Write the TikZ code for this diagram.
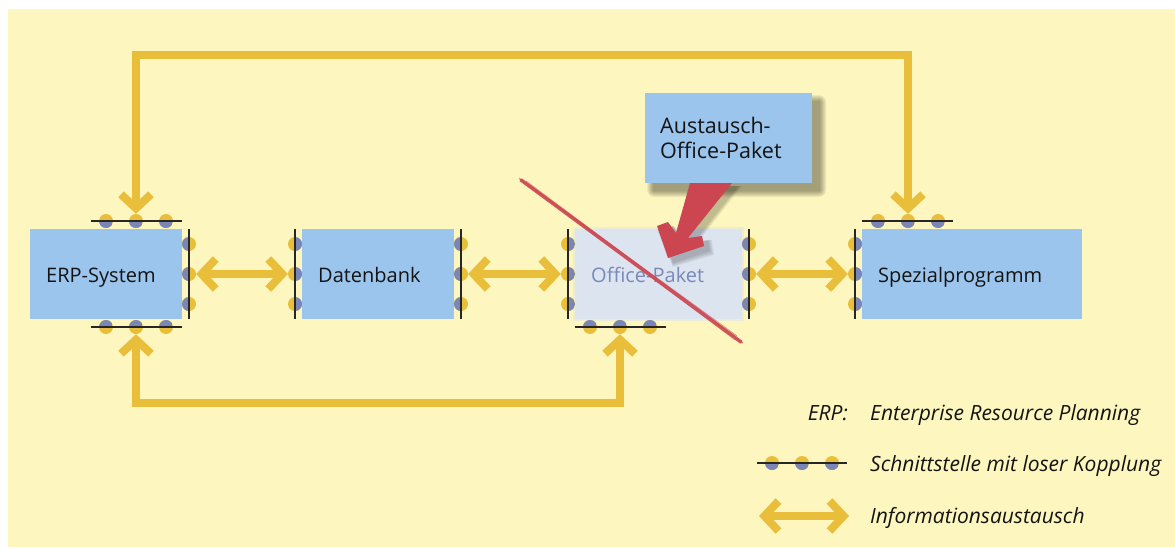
\documentclass[tikz,border=0pt]{standalone}
\usepackage{fontspec}
\setmainfont{Open Sans}
\usetikzlibrary{arrows.meta}

\definecolor{bgyellow}{RGB}{253,246,190}
\definecolor{boxblue}{RGB}{155,197,237}
\definecolor{flowyellow}{RGB}{233,190,58}
\definecolor{dotblue}{RGB}{122,135,182}
\definecolor{fadedbox}{RGB}{220,228,240}
\definecolor{fadedtext}{RGB}{122,137,186}
\definecolor{strikered}{RGB}{203,70,80}
\definecolor{inktext}{RGB}{20,20,20}

\tikzset{
  chev/.tip={Straight Barb[length=14pt,width=30pt,sharp]},
  flow/.style={draw=flowyellow, line width=8pt, line join=miter, chev-chev},
  sysbox/.style={fill=boxblue, draw=none, anchor=north west, minimum height=90pt,
    inner xsep=16pt, inner ysep=0pt, align=left, text=inktext,
    font=\fontsize{20}{24}\selectfont, text height=16pt, text depth=0pt},
  dotbase/.style={circle, fill=flowyellow, draw=none, minimum size=14pt, inner sep=0pt},
  dotT/.style={dotbase, path picture={\fill[dotblue] (path picture bounding box.west) rectangle (path picture bounding box.south east);}},
  dotB/.style={dotbase, path picture={\fill[dotblue] (path picture bounding box.north west) rectangle (path picture bounding box.east);}},
  dotL/.style={dotbase, path picture={\fill[dotblue] (path picture bounding box.north) rectangle (path picture bounding box.south east);}},
  dotR/.style={dotbase, path picture={\fill[dotblue] (path picture bounding box.north west) rectangle (path picture bounding box.south);}},
  iface/.style={draw=black!85, line width=1.3pt},
  legtext/.style={text=inktext, font=\fontsize{21}{25}\selectfont\itshape, inner sep=0pt},
}

\begin{document}
\begin{tikzpicture}[x=1pt,y=-1pt]
\useasboundingbox (0,0) rectangle (1175,547);
\fill[white] (0,0) rectangle (1175,547);
\fill[bgyellow] (8,9) rectangle (1175,547);

% route levels of the long connectors
\coordinate (topY) at (0,55);
\coordinate (botY) at (0,403);

% systems
\node[sysbox, minimum width=152pt, text width=120pt] (erp) at (30,229) {ERP-System};
\node[sysbox, minimum width=152pt, text width=120pt] (db) at (302,229) {Datenbank};
\fill[fadedbox, opacity=0.5] (573,227) rectangle (744,321);
\node[sysbox, fill=fadedbox, text=fadedtext, minimum width=167pt, text width=135pt] (off) at (575,229) {Office-Paket};
\node[sysbox, minimum width=220pt, text width=188pt] (spz) at (862,229) {Spezialprogramm};

% interface dots
\foreach \x [count=\i] in {106,136,166} {
  \node[dotT] (erpT\i) at (\x,221) {};
  \node[dotB] (erpB\i) at (\x,327) {};
}
\foreach \x [count=\i] in {878,908,938} \node[dotT] (spzT\i) at (\x,221) {};
\foreach \x [count=\i] in {590,620,650} \node[dotB] (offB\i) at (\x,327) {};
\foreach \y [count=\i] in {244,274,304} {
  \node[dotR] (erpR\i) at (189,\y) {};
  \node[dotL] (dbL\i) at (295,\y) {};
  \node[dotR] (dbR\i) at (461,\y) {};
  \node[dotL] (offL\i) at (568,\y) {};
  \node[dotR] (offR\i) at (749,\y) {};
  \node[dotL] (spzL\i) at (855,\y) {};
}

% interface lines
\draw[iface] ([xshift=-15pt]erpT1.center) -- ([xshift=16pt]erpT3.center);
\draw[iface] ([xshift=-15pt]erpB1.center) -- ([xshift=16pt]erpB3.center);
\draw[iface] ([xshift=-16pt]spzT1.center) -- ([xshift=15pt]spzT3.center);
\draw[iface] ([xshift=-15pt]offB1.center) -- ([xshift=16pt]offB3.center);
\draw[iface] (erpR1 |- erp.north) -- (erpR1 |- erp.south);
\draw[iface] (dbL1 |- db.north) -- (dbL1 |- db.south);
\draw[iface] (dbR1 |- db.north) -- (dbR1 |- db.south);
\draw[iface] (offL1 |- off.north) -- (offL1 |- off.south);
\draw[iface] (offR1 |- off.north) -- (offR1 |- off.south);
\draw[iface] (spzL1 |- spz.north) -- (spzL1 |- spz.south);

% information exchange
\draw[flow] (erpR2.east) -- (dbL2.west);
\draw[flow] (dbR2.east) -- (offL2.west);
\draw[flow] (offR2.east) -- (spzL2.west);
\draw[flow] (erpT2.north) -- (erpT2.north |- topY) -| (spzT2.north);
\draw[flow] (erpB2.south) -- (erpB2.south |- botY) -| (offB2.south);

% callout with soft shadow
\foreach \s in {1,...,7}
  \fill[black, opacity=0.06, rounded corners=\s pt]
    (645+9-\s,93+9-\s) rectangle (812+7+\s,183+7+\s);
\node[fill=boxblue, anchor=north west, minimum width=167pt, minimum height=90pt,
      text width=137pt, inner xsep=15pt, inner ysep=0pt, align=left, text=inktext,
      font=\fontsize{21.5}{25}\selectfont] (call) at (645,93) {Austausch-\\Office-Paket};

% red pointer from the callout
\foreach \s in {1,...,5}
  \fill[black, opacity=0.05]
    (690+6,183+3) -- (732+5+\s,183+3) -- (688+5+\s,238+4) -- (702+5+\s,236+4)
    -- (704+5+\s,246+4+\s) -- (668+5,258+4+\s) -- (657+5-\s,226+4) -- (668+5,222+4)
    -- (676+5,233+4) -- cycle;
\fill[strikered] (690,183) -- (732,183) -- (688,238) -- (702,236) -- (704,246)
  -- (668,258) -- (657,226) -- (668,222) -- (676,233) -- cycle;

% strike-through
\draw[strikered, line width=3.5pt, opacity=0.9, line cap=round] (521,180) -- (741,342);
\draw[strikered, line width=0.8pt, opacity=0.6] (519,178) -- (737,336);
\draw[strikered, line width=0.8pt, opacity=0.6] (526,181) -- (743,343);
\draw[strikered, line width=0.6pt, opacity=0.5] (530,186) -- (735,340);

% legend
\node[legtext, anchor=base east] (lgERP) at (848,420) {ERP:};
\node[legtext, anchor=base west] (lgERPtxt) at (870,420) {Enterprise Resource Planning};
\foreach \x [count=\i] in {772,802,832} \node[dotT] (lgD\i) at (\x,463) {};
\draw[iface] ([xshift=-15pt]lgD1.center) -- ([xshift=15pt]lgD3.center);
\node[legtext, anchor=base west] (lgIF) at (870,471) {Schnittstelle mit loser Kopplung};
\coordinate (lgA1) at (759,516);
\coordinate (lgA2) at (849,516);
\draw[flow] (lgA1) -- (lgA2);
\node[legtext, anchor=base west] (lgFlow) at (870,523) {Informationsaustausch};
\end{tikzpicture}
\end{document}
